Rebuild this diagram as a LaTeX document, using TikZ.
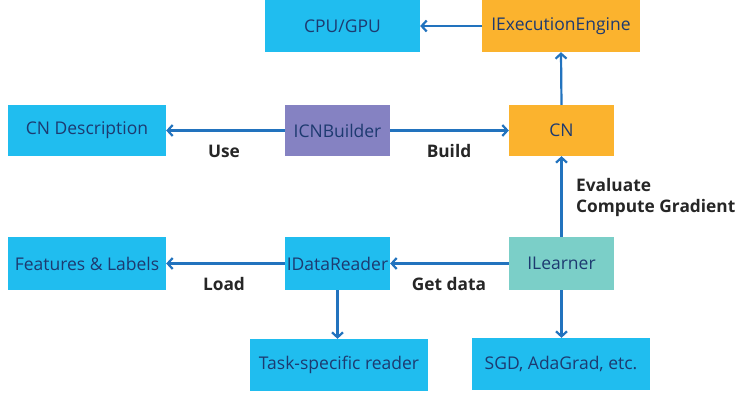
\documentclass[tikz,border=0pt]{standalone}
\usepackage{fontspec}
\setmainfont{Open Sans}
\usetikzlibrary{arrows.meta}
\definecolor{bluebox}{HTML}{20BDEF}
\definecolor{orangebox}{HTML}{FBB32E}
\definecolor{purplebox}{HTML}{8582C2}
\definecolor{tealbox}{HTML}{7BCFC8}
\definecolor{arrowc}{HTML}{2273BE}
\definecolor{boxtext}{HTML}{1D3A70}
\definecolor{labeltext}{HTML}{262626}
\tikzset{
  box/.style={draw=none, inner sep=0pt, text=boxtext, font=\fontsize{17.5}{21}\selectfont},
  conn/.style={draw=arrowc, line width=2.2pt, -{Straight Barb[length=5pt,width=11pt,line width=2.2pt]}},
  lab/.style={text=labeltext, font=\fontsize{17.3}{21}\selectfont\bfseries, inner sep=0pt},
}
\begin{document}
\begin{tikzpicture}[x=1pt,y=-1pt]
\useasboundingbox[fill=white] (0,0) rectangle (740,401);
\node[box, fill=bluebox, minimum width=155pt, minimum height=52pt] (cpu) at (342.5,26) {CPU/GPU};
\node[box, fill=orangebox, minimum width=158pt, minimum height=52pt] (exe) at (561,26) {IExecutionEngine};
\node[box, fill=bluebox, minimum width=158pt, minimum height=51pt] (desc) at (87,130.5) {CN Description};
\node[box, fill=purplebox, minimum width=105pt, minimum height=51pt] (bld) at (337.5,130.5) {ICNBuilder};
\node[box, fill=orangebox, minimum width=105pt, minimum height=51pt] (cn) at (561.5,130.5) {CN};
\node[box, fill=bluebox, minimum width=158pt, minimum height=53pt] (feat) at (87,263.5) {Features \& Labels};
\node[box, fill=bluebox, minimum width=105pt, minimum height=53pt] (rdr) at (337.5,263.5) {IDataReader};
\node[box, fill=tealbox, minimum width=105pt, minimum height=53pt] (lrn) at (561.5,263.5) {ILearner};
\node[box, fill=bluebox, minimum width=178pt, minimum height=52pt] (task) at (339,365) {Task-specific reader};
\node[box, fill=bluebox, minimum width=178pt, minimum height=52pt] (sgd) at (561,364) {SGD, AdaGrad, etc.};
% connectors
\draw[conn] (exe.west) -- (cpu.east);
\draw[conn] (cn.north) -- (exe.south);
\draw[conn] (bld.west) -- (desc.east);
\draw[conn] (bld.east) -- (cn.west);
\draw[conn] (lrn.north) -- (cn.south);
\draw[conn] (rdr.west) -- (feat.east);
\draw[conn] (lrn.west) -- (rdr.east);
\draw[conn] (rdr.south) -- (rdr.south |- task.north);
\draw[conn] (lrn.south) -- (lrn.south |- sgd.north);
% labels
\node[lab] (use) at (224,151) {Use};
\node[lab] (build) at (449,151) {Build};
\node[lab, anchor=west] (eval) at (576,185) {Evaluate};
\node[lab, anchor=west] (grad) at (576,208) {Compute Gradient};
\node[lab] (load) at (224,284) {Load};
\node[lab] (get) at (449,284) {Get data};
\end{tikzpicture}
\end{document}
